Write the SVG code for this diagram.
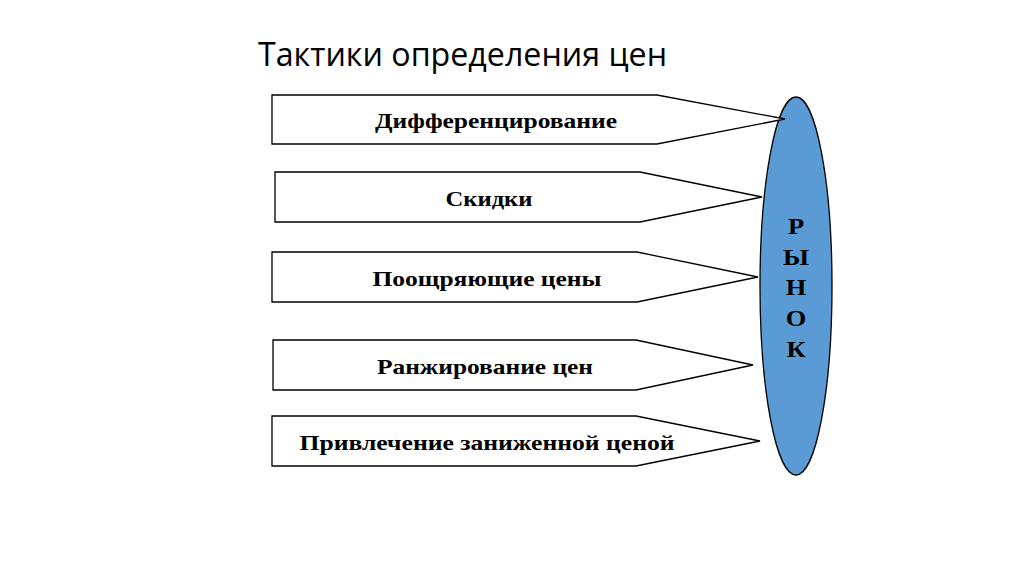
<svg xmlns="http://www.w3.org/2000/svg" width="1024" height="574" viewBox="0 0 1024 574">
<style>
.arr{fill:#fff;stroke:#000;stroke-width:1.3}
.lbl{font-family:"Liberation Serif",serif;font-weight:bold;font-size:21px;text-anchor:middle;fill:#000}
.mk{font-family:"Liberation Serif",serif;font-weight:bold;font-size:23px;text-anchor:middle;fill:#000}
</style>
<rect width="1024" height="574" fill="#fff"/>
<text x="258" y="66" font-family="'Open Sans',sans-serif" font-size="32" textLength="409" lengthAdjust="spacingAndGlyphs" fill="#000">Тактики определения цен</text>
<g id="market">
<ellipse cx="796" cy="286" rx="36" ry="189" fill="#5b9bd5" stroke="#000" stroke-width="1.3"/>
<g transform="translate(796,0) scale(1.15,1)">
<text class="mk" x="0" y="234">Р</text>
<text class="mk" x="0" y="265">Ы</text>
<text class="mk" x="0" y="295">Н</text>
<text class="mk" x="0" y="326">О</text>
<text class="mk" x="0" y="357">К</text>
</g>
</g>
<g id="connectors"></g>
<g id="n1"><polygon class="arr" points="272,95 657,95 785,119 657,144 272,144"/><text class="lbl" x="496" y="128" textLength="242" lengthAdjust="spacingAndGlyphs">Дифференцирование</text></g>
<g id="n2"><polygon class="arr" points="275,172 640,172 762,197 640,222 275,222"/><text class="lbl" x="489" y="206" textLength="87" lengthAdjust="spacingAndGlyphs">Скидки</text></g>
<g id="n3"><polygon class="arr" points="272,252 637,252 758,277 637,302 272,302"/><text class="lbl" x="487" y="286" textLength="229" lengthAdjust="spacingAndGlyphs">Поощряющие цены</text></g>
<g id="n4"><polygon class="arr" points="273,340 636,340 753,365 636,390 273,390"/><text class="lbl" x="485" y="374" textLength="216" lengthAdjust="spacingAndGlyphs">Ранжирование цен</text></g>
<g id="n5"><polygon class="arr" points="272,416 636,416 760,441 636,466 272,466"/><text class="lbl" x="487" y="450" textLength="375" lengthAdjust="spacingAndGlyphs">Привлечение заниженной ценой</text></g>
</svg>
